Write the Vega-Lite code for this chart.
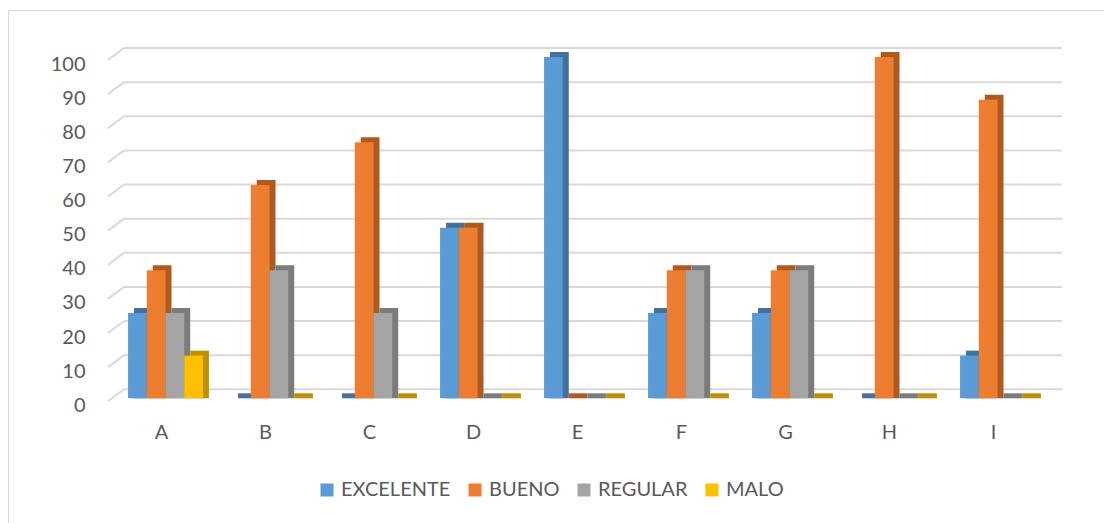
{
  "$schema": "https://vega.github.io/schema/vega-lite/v6.json",
  "width": 1096,
  "height": 513,
  "autosize": {"type": "none"},
  "padding": {"left": 8, "top": 10, "right": 0, "bottom": 0},
  "background": "white",
  "config": {
    "view": {"stroke": "#d9d9d9", "strokeWidth": 1},
    "font": "Lato",
    "axisX": {"domain": false, "ticks": false, "grid": false, "labelFont": "Lato", "labelFontSize": 20, "labelColor": "#595959", "labelOffset": -4, "labelPadding": 0, "offset": -101, "labelAngle": 0},
    "axisY": {"domain": false, "ticks": false, "grid": false, "labelFont": "Lato", "labelFontSize": 20, "labelColor": "#595959", "labelOffset": 7, "labelPadding": 0, "offset": -77, "tickCount": 10}
  },
  "datasets": {
    "scores": [
      {"cat": "A", "serie": "EXCELENTE", "value": 25},
      {"cat": "A", "serie": "BUENO", "value": 37.5},
      {"cat": "A", "serie": "REGULAR", "value": 25},
      {"cat": "A", "serie": "MALO", "value": 12.5},
      {"cat": "B", "serie": "EXCELENTE", "value": 0},
      {"cat": "B", "serie": "BUENO", "value": 62.5},
      {"cat": "B", "serie": "REGULAR", "value": 37.5},
      {"cat": "B", "serie": "MALO", "value": 0},
      {"cat": "C", "serie": "EXCELENTE", "value": 0},
      {"cat": "C", "serie": "BUENO", "value": 75},
      {"cat": "C", "serie": "REGULAR", "value": 25},
      {"cat": "C", "serie": "MALO", "value": 0},
      {"cat": "D", "serie": "EXCELENTE", "value": 50},
      {"cat": "D", "serie": "BUENO", "value": 50},
      {"cat": "D", "serie": "REGULAR", "value": 0},
      {"cat": "D", "serie": "MALO", "value": 0},
      {"cat": "E", "serie": "EXCELENTE", "value": 100},
      {"cat": "E", "serie": "BUENO", "value": 0},
      {"cat": "E", "serie": "REGULAR", "value": 0},
      {"cat": "E", "serie": "MALO", "value": 0},
      {"cat": "F", "serie": "EXCELENTE", "value": 25},
      {"cat": "F", "serie": "BUENO", "value": 37.5},
      {"cat": "F", "serie": "REGULAR", "value": 37.5},
      {"cat": "F", "serie": "MALO", "value": 0},
      {"cat": "G", "serie": "EXCELENTE", "value": 25},
      {"cat": "G", "serie": "BUENO", "value": 37.5},
      {"cat": "G", "serie": "REGULAR", "value": 37.5},
      {"cat": "G", "serie": "MALO", "value": 0},
      {"cat": "H", "serie": "EXCELENTE", "value": 0},
      {"cat": "H", "serie": "BUENO", "value": 100},
      {"cat": "H", "serie": "REGULAR", "value": 0},
      {"cat": "H", "serie": "MALO", "value": 0},
      {"cat": "I", "serie": "EXCELENTE", "value": 12.5},
      {"cat": "I", "serie": "BUENO", "value": 87.5},
      {"cat": "I", "serie": "REGULAR", "value": 0},
      {"cat": "I", "serie": "MALO", "value": 0}
    ],
    "grid": [
      {"v": 0}, {"v": 10}, {"v": 20}, {"v": 30}, {"v": 40}, {"v": 50},
      {"v": 60}, {"v": 70}, {"v": 80}, {"v": 90}, {"v": 100}
    ]
  },
  "layer": [
    {
      "data": {"name": "grid"},
      "mark": {"type": "rule", "color": "#d9d9d9", "strokeWidth": 2, "yOffset": -9},
      "encoding": {
        "x": {"datum": 0, "type": "quantitative", "scale": {"domain": [0, 1], "range": [116, 1054]}, "axis": null},
        "x2": {"datum": 1},
        "y": {"field": "v", "type": "quantitative", "title": null, "scale": {"domain": [0, 100], "range": [388.3, 47], "nice": false}}
      }
    },
    {
      "data": {"name": "grid"},
      "mark": {"type": "rule", "color": "#d9d9d9", "strokeWidth": 2, "yOffset": 3, "y2Offset": -9},
      "encoding": {
        "x": {"datum": 0, "type": "quantitative", "scale": {"domain": [0, 1], "range": [100, 116]}, "axis": null},
        "x2": {"datum": 1},
        "y": {"field": "v", "type": "quantitative", "title": null},
        "y2": {"field": "v"}
      }
    },
    {
      "data": {"name": "scores"},
      "mark": {"type": "bar", "yOffset": -5},
      "encoding": {
        "x": {"field": "cat", "type": "nominal", "axis": null, "scale": {"domain": ["A","B","C","D","E","F","G","H","I"], "range": [105.5, 1041.5], "paddingInner": 0.28, "paddingOuter": 0.14}},
        "xOffset": {"field": "serie", "type": "nominal", "scale": {"domain": ["EXCELENTE","BUENO","REGULAR","MALO"], "range": [6, 80.88], "paddingInner": 0, "paddingOuter": 0}},
        "y": {"field": "value", "type": "quantitative", "title": null},
        "y2": {"datum": 0},
        "color": {"field": "serie", "type": "nominal", "legend": null, "scale": {"domain": ["EXCELENTE","BUENO","REGULAR","MALO"], "range": ["#41719C","#AE5A21","#7B7B7B","#BF9000"]}}
      }
    },
    {
      "data": {"name": "scores"},
      "mark": {"type": "bar"},
      "encoding": {
        "x": {"field": "cat", "type": "nominal", "title": null, "scale": {"domain": ["A","B","C","D","E","F","G","H","I"], "range": [105.5, 1041.5], "paddingInner": 0.28, "paddingOuter": 0.14}},
        "xOffset": {"field": "serie", "type": "nominal", "scale": {"domain": ["EXCELENTE","BUENO","REGULAR","MALO"], "range": [0, 74.88], "paddingInner": 0, "paddingOuter": 0}},
        "y": {"field": "value", "type": "quantitative", "title": null},
        "color": {"field": "serie", "type": "nominal", "title": null, "scale": {"domain": ["EXCELENTE","BUENO","REGULAR","MALO"], "range": ["#5B9BD5","#ED7D31","#A5A5A5","#FFC000"]},
          "legend": {"orient": "none", "legendX": 309, "legendY": 470, "direction": "horizontal", "symbolType": "square", "symbolSize": 169, "symbolStrokeWidth": 0, "labelFontSize": 20, "labelColor": "#595959", "labelFont": "Lato", "columnPadding": 14, "labelOffset": 4}}
      }
    }
  ],
  "resolve": {"scale": {"x": "independent", "xOffset": "independent", "color": "independent"}}
}
